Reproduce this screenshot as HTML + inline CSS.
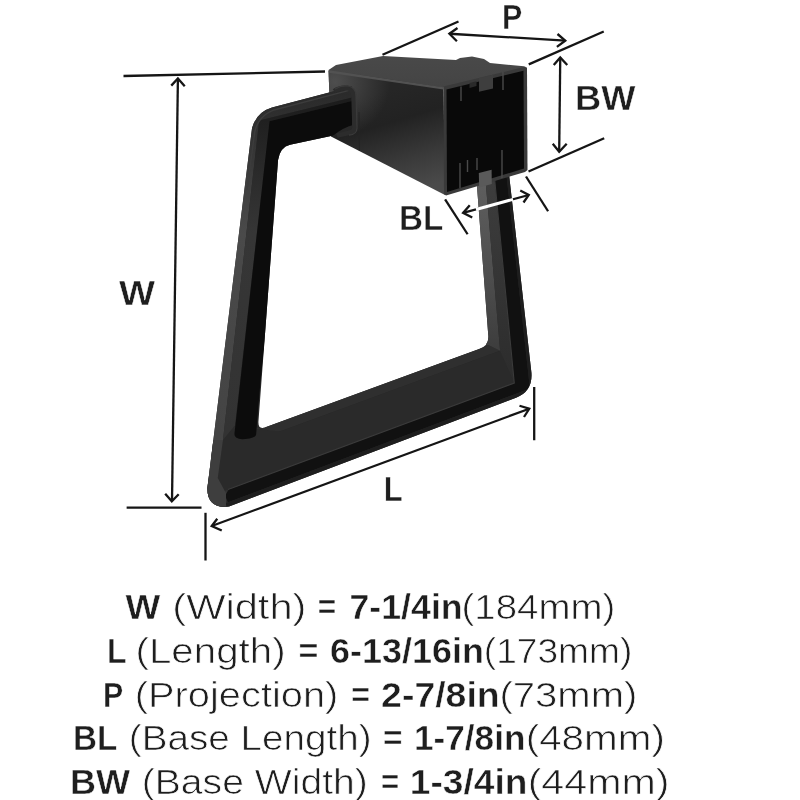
<!DOCTYPE html>
<html><head><meta charset="utf-8">
<style>
html,body{margin:0;padding:0;background:#fff;width:800px;height:800px;overflow:hidden}
svg{display:block;will-change:transform}
text{font-family:"Liberation Sans",sans-serif;fill:#1e1e1e}
.b{font-weight:bold;stroke:#fff;stroke-width:0.45px}
.r{stroke:#fff;stroke-width:0.7px}
</style></head><body>
<svg width="800" height="800" viewBox="0 0 800 800">
<defs>
<linearGradient id="side" gradientUnits="userSpaceOnUse" x1="385" y1="92" x2="415" y2="190">
<stop offset="0" stop-color="#262626"/><stop offset="0.3" stop-color="#222"/><stop offset="0.7" stop-color="#3a3a3a"/><stop offset="1" stop-color="#4a4a4a"/>
</linearGradient>
<linearGradient id="topf" gradientUnits="userSpaceOnUse" x1="0" y1="56" x2="0" y2="88">
<stop offset="0" stop-color="#494949"/><stop offset="1" stop-color="#444"/>
</linearGradient>
<linearGradient id="lband1" gradientUnits="userSpaceOnUse" x1="0" y1="90" x2="0" y2="500">
<stop offset="0" stop-color="#2a2a2a"/><stop offset="0.12" stop-color="#333"/><stop offset="0.35" stop-color="#4a4a4a"/><stop offset="1" stop-color="#424242"/>
</linearGradient>
<linearGradient id="lband2" gradientUnits="userSpaceOnUse" x1="0" y1="90" x2="0" y2="500">
<stop offset="0" stop-color="#1a1a1a"/><stop offset="0.15" stop-color="#262626"/><stop offset="0.35" stop-color="#363636"/><stop offset="1" stop-color="#323232"/>
</linearGradient>
<linearGradient id="rlight" gradientUnits="userSpaceOnUse" x1="0" y1="170" x2="0" y2="380">
<stop offset="0" stop-color="#606060"/><stop offset="0.5" stop-color="#4e4e4e"/><stop offset="1" stop-color="#363636"/>
</linearGradient>
<linearGradient id="rmid" gradientUnits="userSpaceOnUse" x1="0" y1="170" x2="0" y2="380">
<stop offset="0" stop-color="#3e3e3e"/><stop offset="1" stop-color="#2c2c2c"/>
</linearGradient>
<linearGradient id="bface" gradientUnits="userSpaceOnUse" x1="0" y1="0" x2="0.25" y2="1" gradientTransform="">
<stop offset="0" stop-color="#2c2c2c"/><stop offset="1" stop-color="#282828"/>
</linearGradient>
<radialGradient id="sidehl" gradientUnits="userSpaceOnUse" cx="335" cy="82" r="55">
<stop offset="0" stop-color="#4e4e4e" stop-opacity="1"/><stop offset="1" stop-color="#4e4e4e" stop-opacity="0"/>
</radialGradient>
</defs>
<rect width="800" height="800" fill="#fff"/>
<!-- BOX side + top -->
<polygon fill="url(#side)" points="328.5,70.5 336,68.5 443.5,85 445,195 331,136.5"/>
<polygon fill="url(#sidehl)" points="328.5,70.5 336,68.5 443.5,85 445,195 331,136.5"/>
<line x1="359" y1="112" x2="359.4" y2="151" stroke="#242424" stroke-width="1"/>
<polygon fill="url(#topf)" points="328.5,70 336,65 383,56 456,60 460,58 472,56.6 484,59 490,63 524,66.3 527,67.5 443.5,87.5"/>
<polygon fill="#525252" points="329,70.3 443.5,87.2 443.5,89.6 329,72.8"/>
<!-- ARM -->
<clipPath id="ring"><path d="M 352,86.60 L 272,107.48 Q 256.53,112.04 252.05,128 L 207.41,488 Q 207.2,509 229,506.5 L 516,397.7 Q 534,391 531.12,370 L 508.75,172 L 475.91,172 L 488.17,334 Q 489.82,345.72 479.02,348.89 L 266.79,426.77 Q 257.79,431.08 258.47,421.08 L 278.05,160 Q 280.10,147.15 290,144.79 L 352,131.53 Z"/></clipPath>
<path fill="#282828" d="M 352,86.60 L 272,107.48 Q 256.53,112.04 252.05,128 L 207.41,488 Q 207.2,509 229,506.5 L 516,397.7 Q 534,391 531.12,370 L 508.75,172 L 475.91,172 L 488.17,334 Q 489.82,345.72 479.02,348.89 L 266.79,426.77 Q 257.79,431.08 258.47,421.08 L 278.05,160 Q 280.10,147.15 290,144.79 L 352,131.53 Z"/>
<g clip-path="url(#ring)">
<polygon fill="url(#lband1)" points="355.00,75.81 200.00,60.00 150.00,520.00 213.91,520.00 259.14,120.57 355.00,96.63"/>
<polygon fill="url(#lband2)" points="355.00,96.63 259.14,120.57 213.91,520.00 224.13,520.00 269.48,121.27 355.00,100.24"/>
<line x1="295" y1="127.67" x2="352" y2="114.45" stroke="#1a1a1a" stroke-width="1.5"/>
<path fill="none" stroke="#3c3c3c" stroke-width="1.4" d="M 352,89.60 L 274,109.96 Q 258.28,116.10 254.75,132 L 246.96,190"/>
<polygon fill="#2f2f2f" points="200.00,448.29 489.02,345.22 500.10,350.65 200.00,460.79"/>
<polygon fill="#2a2a2a" points="234.44,426.08 280.00,431.43 500.10,350.65 514.28,383.07 200.00,499.98 222.97,440.00"/>
<path fill="#0c0c0c" d="M 355.00,100.24 269.48,121.27 234.42,434.08 Q 234.42,440.08 245.31,439.08 Q 256.19,438.08 256.19,434.08 276.47,141.90 355.00,124.57 Z"/>
<polygon fill="url(#rlight)" points="470.38,165.00 484.17,165.00 500.10,350.65 489.02,345.22 484.02,345.22"/>
<polygon fill="url(#rmid)" points="484.17,165.00 493.30,165.00 514.28,383.07 500.10,350.65"/>
<polygon fill="#111" points="493.30,165.00 505.35,165.00 529.94,388.54 228.00,502.37 225.00,495.68 229.00,489.19 514.28,383.07"/>
<polygon fill="#1e1e1e" points="505.35,165.00 600.00,165.00 600.00,560.00 200.00,560.00 200.00,512.93 529.94,388.54"/>
<polygon fill="#3e3e3e" points="203.36,440.00 222.97,440.00 217.76,478.00 226.00,493.31 226.00,504.13 228.00,520.00 190.00,520.00"/>
<polyline fill="none" stroke="#3a3a3a" stroke-width="1.1" points="493.30,165.00 514.28,383.07 228.00,489.56"/>
</g>

<!-- collar -->
<path fill="none" stroke="#2c2c2c" stroke-width="4.5" d="M 334,91 Q 340,87 347,87.8 Q 353,89 353.5,96 L 354.5,127 Q 354.5,132 348.5,133 L 337,135.5"/>
<path fill="none" stroke="#3a3a3a" stroke-width="1.2" d="M 335,89 Q 341,85.3 348,86 Q 355.5,87.5 356,95 L 357,128 Q 356.8,134.5 349,135.2"/>
<!-- front face -->
<polygon fill="#3a3a3a" points="443.5,86.5 524,67 527,67.8 527.5,170 525,172 446,195.5 444,194"/>
<polygon fill="#090909" points="446.5,89.5 523.5,70.8 524,168.5 447,192"/>
<polygon fill="#3e3e3e" points="479,78 493,74.8 493,88.5 479,91.7"/>
<polygon fill="#2a2a2a" points="469.5,83 476.5,81.2 476.5,86 469.5,88"/>
<polygon fill="#5a5a5a" points="478.8,173 491.6,169.8 491.8,184 479.2,187.5"/>
<g stroke="#4a4a4a" stroke-width="1.4">
<line x1="461" y1="86.5" x2="461" y2="101"/>
<line x1="503" y1="72" x2="503" y2="90"/>
<line x1="460" y1="163" x2="460" y2="188"/>
<line x1="467.5" y1="160" x2="467.5" y2="172"/>
<line x1="477" y1="158" x2="477" y2="170"/>
<line x1="502" y1="150" x2="502" y2="178"/>
</g>

<!-- DIMENSION LINES -->
<g stroke="#151515" stroke-width="2.3" fill="none" stroke-linecap="butt">
<line x1="123.5" y1="76" x2="325" y2="71.5"/>
<line x1="177.9" y1="79" x2="172" y2="501"/>
<polyline points="171.25,85.6 177.9,78.5 184.75,86.25"/>
<polyline points="165.2,493.75 171.8,501.25 178.7,494.2"/>
<line x1="126.6" y1="507.6" x2="201.5" y2="507.7"/>
<line x1="205.5" y1="512.8" x2="205.5" y2="560.5"/>
<line x1="534.2" y1="387" x2="534.2" y2="440.25"/>
<line x1="211.7" y1="526" x2="529.25" y2="408.75"/>
<polyline points="217.25,518.8 211.7,526 221.75,530.5"/>
<polyline points="519.5,405.75 529.25,408.75 524,417"/>
<line x1="382.5" y1="54.7" x2="458.5" y2="21.5"/>
<line x1="528.75" y1="64.4" x2="603.75" y2="31.5"/>
<line x1="449.4" y1="33.75" x2="565.25" y2="40.6"/>
<polyline points="457.5,28 449.4,33.75 456.9,41.25"/>
<polyline points="557.5,34 565.25,40.6 556.9,46.9"/>
<line x1="528.5" y1="171.5" x2="604.2" y2="138.25"/>
<line x1="560.25" y1="57.5" x2="559.2" y2="151.75"/>
<polyline points="553.75,65 560.25,57.5 567.25,65"/>
<polyline points="552.75,143.8 559.2,151.75 566.7,143.8"/>
<line x1="445.1" y1="199.4" x2="467.6" y2="234.25"/>
<line x1="526" y1="176.5" x2="548.1" y2="211.25"/>
<line x1="463.1" y1="212.9" x2="528.75" y2="195"/>
<polyline points="469.75,205.25 463.1,212.9 472.25,217.5"/>
<polyline points="520.25,190.6 528.75,195 523.5,202.5"/>
</g>

<!-- LABELS -->
<g font-size="35">
<text class="b" x="502.01" y="29.4" textLength="20.29" lengthAdjust="spacingAndGlyphs">P</text>
<text class="b" x="575.13" y="110.2" textLength="60.41" lengthAdjust="spacingAndGlyphs">BW</text>
<text class="b" x="399.10" y="229.9" textLength="44.26" lengthAdjust="spacingAndGlyphs">BL</text>
<text class="b" x="119.00" y="304.9" textLength="36.04" lengthAdjust="spacingAndGlyphs">W</text>
<text class="b" x="383.63" y="500.9" textLength="18.96" lengthAdjust="spacingAndGlyphs">L</text>
</g>
<!-- SPEC LINES -->
<g font-size="35">
<text class="b" x="125.50" y="618.8" textLength="34.79" lengthAdjust="spacingAndGlyphs">W</text>
<text class="r" x="172.32" y="618.8" textLength="134.15" lengthAdjust="spacingAndGlyphs">(Width)</text>
<text class="b" x="317.85" y="618.8" textLength="18.45" lengthAdjust="spacingAndGlyphs">=</text>
<text class="b" x="349.48" y="618.8" textLength="113.18" lengthAdjust="spacingAndGlyphs">7-1/4in</text>
<text class="r" x="461.55" y="618.8" textLength="153.76" lengthAdjust="spacingAndGlyphs">(184mm)</text>
<text class="b" x="106.97" y="662.8" textLength="19.58" lengthAdjust="spacingAndGlyphs">L</text>
<text class="r" x="135.50" y="662.8" textLength="150.16" lengthAdjust="spacingAndGlyphs">(Length)</text>
<text class="b" x="298.53" y="662.8" textLength="19.87" lengthAdjust="spacingAndGlyphs">=</text>
<text class="b" x="329.97" y="662.8" textLength="153.95" lengthAdjust="spacingAndGlyphs">6-13/16in</text>
<text class="r" x="483.88" y="662.8" textLength="148.37" lengthAdjust="spacingAndGlyphs">(173mm)</text>
<text class="b" x="103.07" y="706.5" textLength="20.23" lengthAdjust="spacingAndGlyphs">P</text>
<text class="r" x="134.72" y="706.5" textLength="203.66" lengthAdjust="spacingAndGlyphs">(Projection)</text>
<text class="b" x="351.33" y="706.5" textLength="18.79" lengthAdjust="spacingAndGlyphs">=</text>
<text class="b" x="381.13" y="706.5" textLength="118.54" lengthAdjust="spacingAndGlyphs">2-7/8in</text>
<text class="r" x="499.51" y="706.5" textLength="137.88" lengthAdjust="spacingAndGlyphs">(73mm)</text>
<text class="b" x="73.10" y="750" textLength="44.26" lengthAdjust="spacingAndGlyphs">BL</text>
<text class="r" x="128.79" y="750" textLength="242.84" lengthAdjust="spacingAndGlyphs">(Base Length)</text>
<text class="b" x="383.04" y="750" textLength="19.53" lengthAdjust="spacingAndGlyphs">=</text>
<text class="b" x="413.99" y="750" textLength="111.40" lengthAdjust="spacingAndGlyphs">1-7/8in</text>
<text class="r" x="525.69" y="750" textLength="139.22" lengthAdjust="spacingAndGlyphs">(48mm)</text>
<text class="b" x="69.94" y="794" textLength="60.10" lengthAdjust="spacingAndGlyphs">BW</text>
<text class="r" x="141.76" y="794" textLength="226.09" lengthAdjust="spacingAndGlyphs">(Base Width)</text>
<text class="b" x="381.11" y="794" textLength="18.17" lengthAdjust="spacingAndGlyphs">=</text>
<text class="b" x="409.88" y="794" textLength="117.58" lengthAdjust="spacingAndGlyphs">1-3/4in</text>
<text class="r" x="527.65" y="794" textLength="141.80" lengthAdjust="spacingAndGlyphs">(44mm)</text>
</g>
<line x1="476" y1="209.44" x2="513" y2="199.35" stroke="#fff" stroke-width="3"/>
</svg>
</body></html>
